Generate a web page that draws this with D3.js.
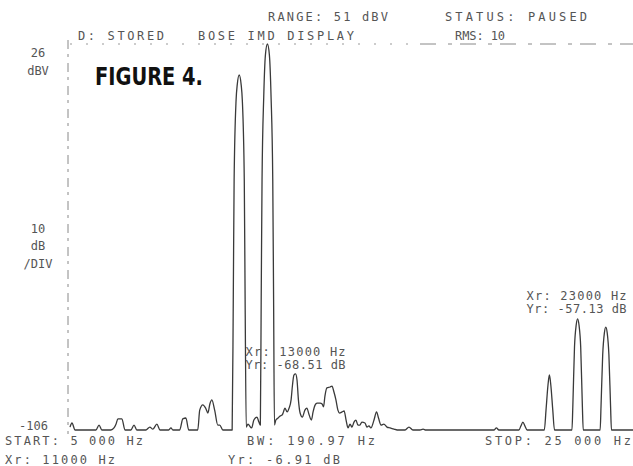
<!DOCTYPE html>
<html>
<head>
<meta charset="utf-8">
<script src="https://cdn.jsdelivr.net/npm/d3@7"></script>
<style>
  body { margin: 0; background: #fff; }
  svg { display: block; }
  .lcd { font-family: "DejaVu Sans Mono", monospace; font-size: 12px; fill: #555; white-space: pre; }
</style>
</head>
<body>
<div id="chart"></div>
<script>
// trace: frequency (Hz) and level (dBV)
var freqs = [
  5000, 5070, 5180, 5920, 6030, 6130, 6450, 6560, 6630, 6700, 6840, 6950,
  7160, 7270, 7370, 7690, 7830, 7940, 8080, 8190, 8500, 8580, 8650, 8890,
  9000, 9110, 9210, 9530, 9600, 9710, 9810, 9890, 9960, 10030, 10130, 10240,
  10310, 10420, 10700,
  10750, 10790, 10820, 10890, 10930, 11000, 11070, 11110, 11180, 11210, 11250,
  11310, 11440, 11520, 11630, 11700,
  11750, 11780, 11810, 11870, 11930, 12000, 12070, 12130, 12190, 12220, 12250,
  12300, 12380, 12450, 12520, 12570, 12620, 12700, 12770, 12840, 12890, 12940,
  13000, 13050, 13100, 13160, 13240, 13330, 13400, 13470, 13560, 13620, 13690,
  13760, 13870, 13940, 13990, 14040, 14110, 14220, 14290, 14360, 14430, 14500,
  14560, 14650, 14720, 14790, 14860, 14930, 15000, 15070, 15140, 15210, 15280,
  15350, 15460, 15530, 15600, 15670, 15780, 15870, 15940, 16030, 16130, 16240,
  16350, 16490, 16600, 16880, 17020, 17160, 17410, 17520, 17620, 20040, 20120,
  20210, 20920, 20990, 21060, 21130, 21210,
  21820, 21880, 21950, 22000, 22050, 22120, 22180,
  22800, 22830, 22890, 22950, 23000, 23050, 23110, 23170, 23200,
  23800, 23830, 23890, 23950, 24000, 24050, 24110, 24170, 24200, 25000
];
var levels = [
  -105, -103.6, -106, -106, -104.3, -106, -106, -105.3, -104, -102.2, -102.2, -106,
  -106, -104.3, -106, -106, -105, -105.7, -104, -106, -106, -105.3, -106, -106,
  -102.2, -101.9, -106, -106, -99.2, -97.4, -98.5, -100.2, -97.1, -95.7, -99.2, -104.3,
  -104.3, -106, -106,
  -106, -61.5, -20.5, 6.9, 12.0, 15.4, 12.0, 6.9, -20.5, -61.5, -105,
  -104, -105.3, -102.6, -101.6, -103.3,
  -104.3, -61.5, -20.5, 7.9, 22.3, 26, 22.3, 7.9, -20.5, -61.5, -104.3,
  -102.6, -101.9, -101.2, -100.9, -99.8, -98.5, -99.8, -98.5, -95.7, -90.6, -87.2,
  -86.8, -88.9, -95.7, -100.2, -101.6, -99.2, -98.5, -100.5, -102.6, -99.8, -97.5,
  -96.8, -96.8, -97.1, -98.1, -94.4, -91.6, -91.3, -91, -93, -95.7, -99.2,
  -100.2, -99.8, -99.5, -102.6, -105.3, -104, -105, -103.3, -102.6, -104.3, -104.3,
  -103.3, -103.6, -105, -104.6, -105.3, -102.6, -99.8, -101.9, -104.3, -104, -105,
  -105.3, -105.7, -106, -106, -105, -106, -106, -105.7, -106, -106, -105.3,
  -106, -106, -104.6, -103.3, -104.6, -106,
  -106, -99.2, -90.6, -87.2, -90.6, -99.2, -106,
  -106, -98.1, -77.6, -70.1, -68.0, -70.1, -77.6, -98.1, -106,
  -106, -98.1, -80.3, -72.8, -70.8, -72.8, -80.3, -98.1, -106, -106
];

var headerTop = ["RANGE: 51 dBV", "STATUS: PAUSED"];
var headerRow = ["D: STORED", "BOSE IMD DISPLAY", "RMS: 10"];
var leftLabels = ["26", "dBV", "10", "dB", "/DIV", "-106"];
var footerRow1 = ["START: 5 000 Hz", "BW: 190.97 Hz", "STOP: 25 000 Hz"];
var footerRow2 = ["Xr: 11000 Hz", "Yr: -6.91 dB"];
var markerFreqs = [13000, 23000];
var markerText = [["Xr: 13000 Hz", "Yr: -68.51 dB"], ["Xr: 23000 Hz", "Yr: -57.13 dB"]];

var svgWidth = 633, svgHeight = 466;

var svg = d3.select("#chart").append("svg")
    .attr("width", svgWidth)
    .attr("height", svgHeight);

var x = d3.scaleLinear().domain([5000, 25000]).range([70, 634]);
var y = d3.scaleLinear().domain([-106, 26]).range([430, 44]);

var data = freqs.map(function(f, i) { return { f: f, v: levels[i] }; });

function label(t, px, py, w, anchor) {
  var el = svg.append("text").attr("class", "lcd")
      .attr("x", px).attr("y", py)
      .attr("text-anchor", anchor || "start")
      .text(t);
  if (w) el.attr("textLength", w).attr("lengthAdjust", "spacing");
  return el;
}

// screen frame (dashed like the photo)
svg.append("line")
    .attr("x1", 68).attr("x2", 68)
    .attr("y1", 40).attr("y2", 434)
    .attr("stroke", "#888").attr("stroke-width", 1)
    .attr("stroke-dasharray", "9,5,3,6");
svg.append("line")
    .attr("x1", 70).attr("x2", 420)
    .attr("y1", 44).attr("y2", 44)
    .attr("stroke", "#999").attr("stroke-width", 1)
    .attr("stroke-dasharray", "2,14");
svg.append("line")
    .attr("x1", 420).attr("x2", 633)
    .attr("y1", 44).attr("y2", 44)
    .attr("stroke", "#888").attr("stroke-width", 1)
    .attr("stroke-dasharray", "16,12,4,8");

var line = d3.line()
    .x(function(d) { return x(d.f); })
    .y(function(d) { return y(d.v); })
    .curve(d3.curveMonotoneX);

svg.append("path")
    .datum(data)
    .attr("fill", "none")
    .attr("stroke", "#3a3a3a")
    .attr("stroke-width", 1.3)
    .attr("stroke-linejoin", "round")
    .attr("d", line);

// header
label(headerTop[0], 268, 21, 120);
label(headerTop[1], 445, 21, 142);
label(headerRow[0], 78, 40, 86);
label(headerRow[1], 198, 40, 156);
label(headerRow[2], 455, 40, 50);

// left scale labels
var leftY = [57, 75, 233, 250, 268, 430];
leftLabels.forEach(function(t, i) {
  label(t, i === 5 ? 48 : 38, leftY[i], null, i === 5 ? "end" : "middle");
});

// footer
label(footerRow1[0], 5, 445, 138);
label(footerRow1[1], 247, 445, 128);
label(footerRow1[2], 485, 445, 146);
label(footerRow2[0], 5, 464, 110);
label(footerRow2[1], 228, 464, 112);

// marker readouts
var markerDx = [-50, -51], markerY = [356, 300];
markerFreqs.forEach(function(f, i) {
  label(markerText[i][0], x(f) + markerDx[i], markerY[i], 100);
  label(markerText[i][1], x(f) + markerDx[i], markerY[i] + 13, 100);
});

svg.append("text")
    .attr("x", 95).attr("y", 85)
    .attr("font-family", "'Liberation Sans Narrow', 'DejaVu Sans Condensed', sans-serif")
    .attr("font-weight", "bold")
    .attr("font-size", 25)
    .attr("textLength", 108)
    .attr("lengthAdjust", "spacingAndGlyphs")
    .attr("fill", "#111")
    .text("FIGURE 4.");
</script>
</body>
</html>
